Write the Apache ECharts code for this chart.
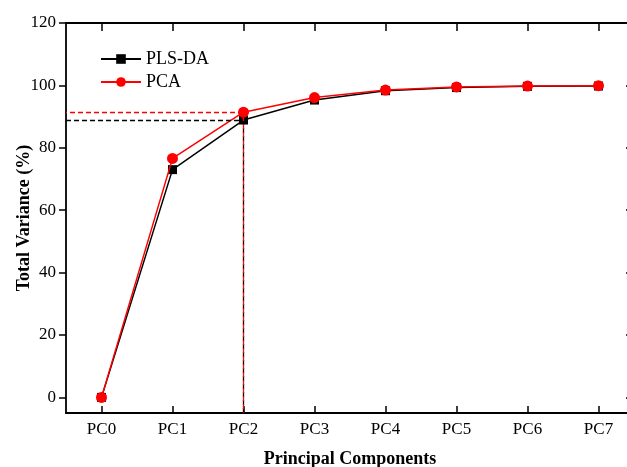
<!DOCTYPE html>
<html>
<head>
<meta charset="utf-8">
<script src="https://cdn.jsdelivr.net/npm/echarts@6/dist/echarts.min.js"></script>
<style>html,body{margin:0;padding:0;background:#fff}#c{width:627px;height:467px}</style>
</head>
<body>
<div id="c"></div>
<script>
var categories = ['PC0','PC1','PC2','PC3','PC4','PC5','PC6','PC7'];
var plsda = [0, 73.0, 88.9, 95.3, 98.3, 99.3, 99.7, 99.8];
var pca = [0, 76.6, 91.4, 96.1, 98.5, 99.5, 99.8, 99.9];
var yTicks = [0, 20, 40, 60, 80, 100, 120];
var refIndex = 2;
var yMin = -5, yMax = 120;

var font = 'Liberation Serif';
var idx = categories.map(function(c, i){ return i; });
function pairs(arr){ return arr.map(function(v, i){ return [i, v]; }); }

function guide(val, color, offset){
  return {
    symbol: 'none', silent: true, label: {show: false},
    lineStyle: {type: [5, 3], dashOffset: offset, color: color, width: 1.3, opacity: 1},
    emphasis: {disabled: true},
    data: [
      [{coord: [-0.5, val]}, {coord: [refIndex, val]}],
      [{coord: [refIndex, val]}, {coord: [refIndex, yMin]}]
    ]
  };
}

var chart = echarts.init(document.getElementById('c'), null, {renderer: 'canvas'});
var axisLineStyle = {color: '#000', width: 1.8};
chart.setOption({
  animation: false,
  backgroundColor: '#fff',
  grid: {left: 66, top: 23, width: 568, bottom: 54, containLabel: false, outerBoundsMode: 'none'},
  legend: {
    orient: 'vertical', left: 100, top: 50, padding: 0, itemWidth: 40, itemHeight: 12, itemGap: 5,
    textStyle: {fontFamily: font, fontSize: 18, color: '#000'},
    data: ['PLS-DA', 'PCA']
  },
  xAxis: [{
    type: 'value', min: -0.5, max: 7.5, position: 'bottom',
    name: 'Principal Components', nameLocation: 'middle', nameGap: 37, nameMoveOverlap: false,
    nameTextStyle: {fontFamily: font, fontSize: 18, fontWeight: 'bold', color: '#000'},
    axisLine: {show: true, onZero: false, lineStyle: axisLineStyle},
    axisTick: {show: true, inside: true, length: 7, customValues: idx, lineStyle: {width: 1.5, color: '#000'}},
    axisLabel: {customValues: idx, margin: 8, fontFamily: font, fontSize: 17, color: '#000',
      formatter: function(v){ return categories[Math.round(v)]; }},
    splitLine: {show: false}
  }, {
    type: 'value', min: -0.5, max: 7.5, position: 'top',
    axisLine: {show: true, onZero: false, lineStyle: axisLineStyle},
    axisTick: {show: true, inside: true, length: 8, customValues: idx, lineStyle: {width: 1.5, color: '#000'}},
    axisLabel: {show: false}, splitLine: {show: false}
  }],
  yAxis: [{
    type: 'value', min: yMin, max: yMax, position: 'left',
    name: 'Total Variance (%)', nameLocation: 'middle', nameGap: 33, nameMoveOverlap: false,
    nameTextStyle: {fontFamily: font, fontSize: 18, fontWeight: 'bold', color: '#000'},
    axisLine: {show: true, onZero: false, lineStyle: axisLineStyle},
    axisTick: {show: true, inside: false, length: 7, customValues: yTicks, lineStyle: {width: 1.5, color: '#000'}},
    axisLabel: {customValues: yTicks, margin: 10, fontFamily: font, fontSize: 17, color: '#000'},
    splitLine: {show: false}
  }, {
    type: 'value', min: yMin, max: yMax, position: 'right',
    axisLine: {show: true, onZero: false, lineStyle: axisLineStyle},
    axisTick: {show: true, inside: true, length: 8, customValues: yTicks, lineStyle: {width: 1.5, color: '#000'}},
    axisLabel: {show: false}, splitLine: {show: false}
  }],
  series: [{
    name: 'PLS-DA', type: 'line', data: pairs(plsda),
    symbol: 'rect', symbolSize: 9,
    itemStyle: {color: '#000'}, lineStyle: {color: '#000', width: 1.5},
    markLine: guide(plsda[refIndex], '#000', 0), z: 2
  }, {
    name: 'PCA', type: 'line', data: pairs(pca),
    symbol: 'circle', symbolSize: 11,
    itemStyle: {color: '#ff0000'}, lineStyle: {color: '#ff0000', width: 1.5},
    markLine: guide(pca[refIndex], '#ff0000', 4), z: 3
  }]
});
</script>
</body>
</html>
